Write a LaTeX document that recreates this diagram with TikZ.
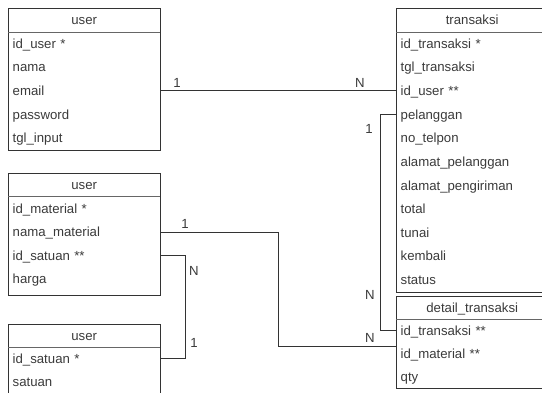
\documentclass[tikz,border=0pt]{standalone}
\usepackage{fontspec}
\setmainfont{Liberation Sans}
\definecolor{bd}{HTML}{333333}
\definecolor{tx}{HTML}{3a3a3a}
\definecolor{sp}{HTML}{666666}
\begin{document}
\begin{tikzpicture}[x=1pt,y=-1pt,
  font=\fontsize{13.2}{15}\selectfont,
  row/.style={anchor=west, minimum width=152pt, minimum height=23pt, text width=143pt,
              inner xsep=4.5pt, inner ysep=0pt, align=left, text=tx,
              text height=11.5pt, text depth=1.8pt},
  hdr/.style={anchor=north west, minimum width=152pt, minimum height=24pt, inner sep=0pt, text=tx,
              text height=11pt, text depth=1.8pt},
  box/.style={draw=bd, line width=0.9pt},
  sep/.style={draw=sp, line width=0.8pt},
  conn/.style={draw=bd, line width=0.8pt},
  card/.style={text=tx, inner sep=0pt}]
\useasboundingbox (0,0) rectangle (542,392);
\clip (0,0) rectangle (542,392);

% user
\draw[box] (8,8) rectangle (160,150);
\draw[sep] (8,32) -- (160,32);
\node[hdr] (u-h) at (8,8) {user};
\node[row] (u-id)  at (8,43.4) {id\_user *};
\node[row] (u-nm)  at (8,67) {nama};
\node[row] (u-em)  at (8,90.4) {email};
\node[row] (u-pw)  at (8,114.2)  {password};
\node[row] (u-tgl) at (8,137.8) {tgl\_input};

% material
\draw[box] (8,173) rectangle (160,295);
\draw[sep] (8,196) -- (160,196);
\node[hdr, minimum height=23pt] (m-h) at (8,173) {user};
\node[row] (m-id)  at (8,208.5) {id\_material *};
\node[row] (m-nm)  at (8,232) {nama\_material};
\node[row] (m-ids) at (8,255.5) {id\_satuan **};
\node[row] (m-hg)  at (8,279) {harga};

% satuan
\draw[box] (8,324) rectangle (160,405);
\draw[sep] (8,347) -- (160,347);
\node[hdr, minimum height=23pt] (s-h) at (8,324) {user};
\node[row] (s-id) at (8,358.5) {id\_satuan *};
\node[row] (s-st) at (8,382) {satuan};

% transaksi
\draw[box] (396,8) rectangle (548,292);
\draw[sep] (396,32) -- (548,32);
\node[hdr] (t-h) at (396,8) {transaksi};
\foreach \n/\t [count=\i] in {t-id/id\_transaksi *, t-tgl/tgl\_transaksi, t-usr/id\_user **,
   t-pel/pelanggan, t-tel/no\_telpon, t-alp/alamat\_pelanggan, t-alk/alamat\_pengiriman,
   t-tot/total, t-tun/tunai, t-kem/kembali, t-sta/status}
  \node[row] (\n) at (396,{31.5+23.64*(\i-0.5)}) {\t};

% detail_transaksi
\draw[box] (396,296) rectangle (548,388);
\draw[sep] (396,319) -- (548,319);
\node[hdr, minimum height=23pt] (d-h) at (396,296) {detail\_transaksi};
\node[row] (d-idt) at (396,330.5) {id\_transaksi **};
\node[row] (d-idm) at (396,353.5) {id\_material **};
\node[row] (d-qty) at (396,376.5) {qty};
\coordinate (d-in) at (396,346);

% connectors
\draw[conn] (u-em.east) -- (u-em.east -| t-usr.west);
\draw[conn] (t-pel.west) -- ++(-16,0) |- (d-idt.west);
\draw[conn] (m-nm.east) -- ++(118,0) |- (d-in);
\draw[conn] (m-ids.east) -- ++(25,0) |- (s-id.east);

% cardinalities
\node[card] at (177,83) {1};
\node[card] at (360,83) {N};
\node[card] at (369,129) {1};
\node[card] at (370,295) {N};
\node[card] at (370,338) {N};
\node[card] at (185,224) {1};
\node[card] at (194,271) {N};
\node[card] at (194,343) {1};
\end{tikzpicture}
\end{document}
